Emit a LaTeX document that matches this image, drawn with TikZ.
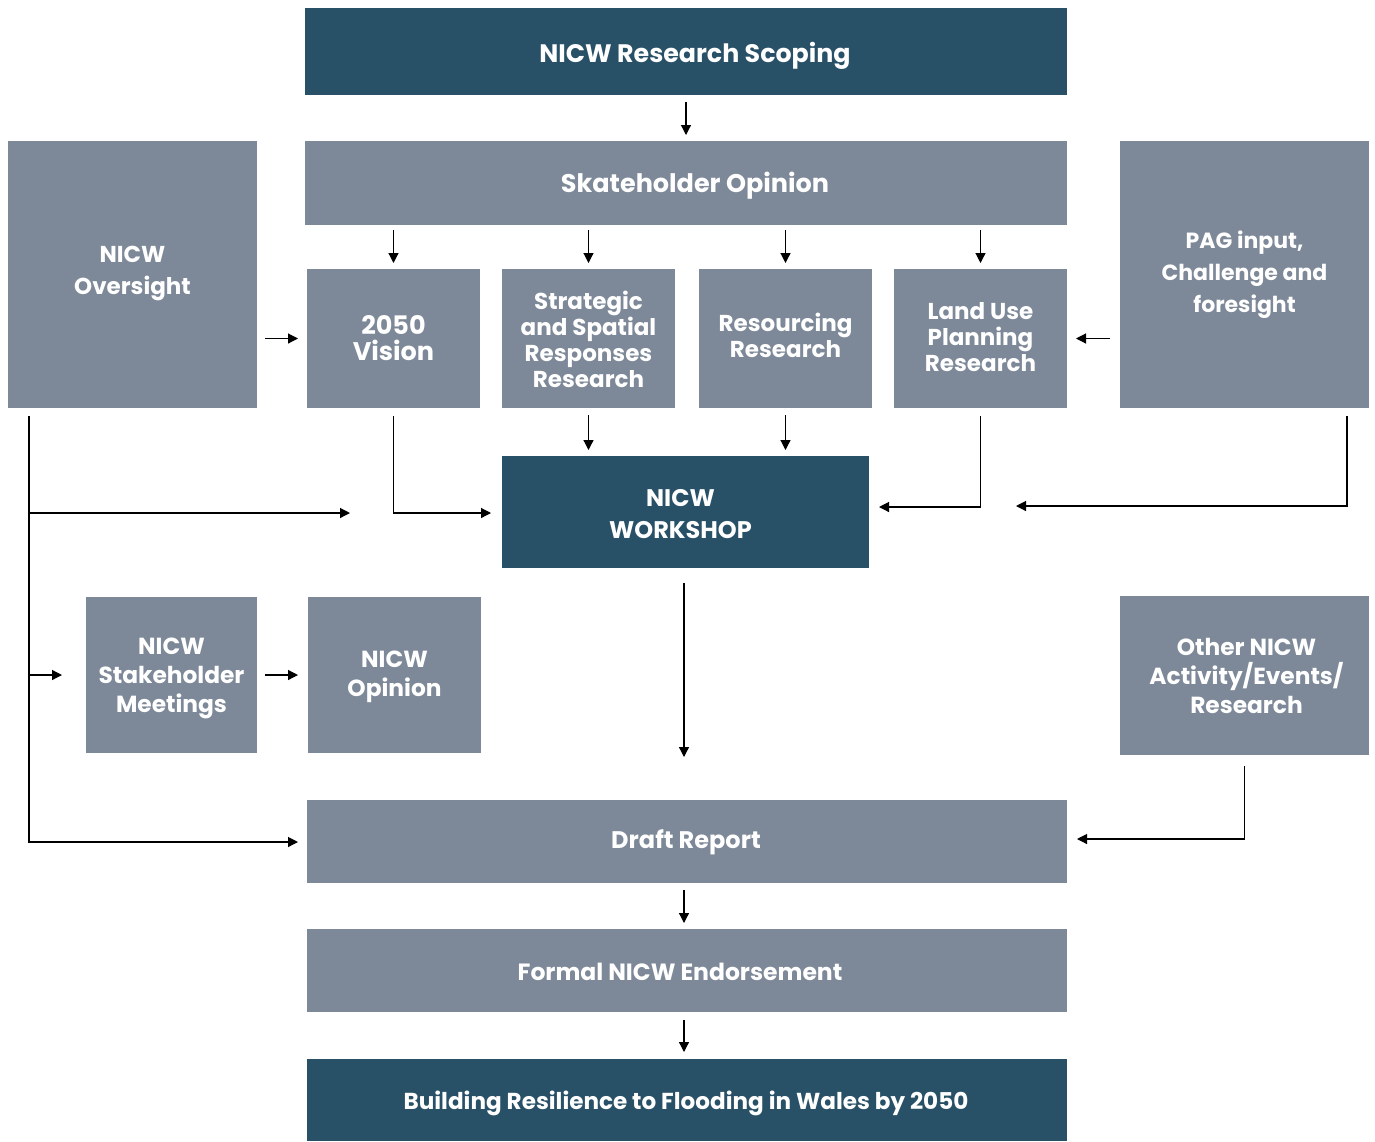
\documentclass[tikz,border=0pt]{standalone}
\usepackage{fontspec}
\setmainfont{Poppins}
\usetikzlibrary{arrows.meta}
\definecolor{darkbox}{RGB}{40,80,102}
\definecolor{greybox}{RGB}{125,137,152}
\newcommand{\fsz}[2]{\bfseries\fontsize{#1}{#2}\selectfont}
\begin{document}
\begin{tikzpicture}[x=1pt,y=-1pt,
  box/.style={fill=greybox,draw=none,inner sep=0pt,outer sep=0pt},
  darkb/.style={box,fill=darkbox},
  txt/.style={text=white,inner sep=0pt,align=center,font=\fsz{23}{26}},
  arr/.style={-{Triangle[length=10pt,width=10pt]},line width=1.2pt,black}]
\useasboundingbox (0,0) rectangle (1375,1141);
\fill[white] (0,0) rectangle (1375,1141);
% boxes
\node[darkb,minimum width=762,minimum height=87] (scope) at (686,51.5) {};
\node[box,minimum width=762,minimum height=84] (sk) at (686,183) {};
\node[box,minimum width=249,minimum height=267] (ovs) at (132.5,274.5) {};
\node[box,minimum width=249,minimum height=267] (pag) at (1244.5,274.5) {};
\node[box,minimum width=173,minimum height=139] (vis) at (393.5,338.5) {};
\node[box,minimum width=173,minimum height=139] (strat) at (588.5,338.5) {};
\node[box,minimum width=173,minimum height=139] (res) at (785.5,338.5) {};
\node[box,minimum width=173,minimum height=139] (land) at (980.5,338.5) {};
\node[darkb,minimum width=367,minimum height=112] (ws) at (685.5,512) {};
\node[box,minimum width=171,minimum height=156] (meet) at (171.5,675) {};
\node[box,minimum width=173,minimum height=156] (op) at (394.5,675) {};
\node[box,minimum width=249,minimum height=159] (other) at (1244.5,675.5) {};
\node[box,minimum width=760,minimum height=83] (draft) at (687,841.5) {};
\node[box,minimum width=760,minimum height=83] (formal) at (687,970.5) {};
\node[darkb,minimum width=760,minimum height=82] (build) at (687,1100) {};
% texts
\node[txt,font=\fsz{25.3}{32}] (scopeT) at ([xshift=9pt,yshift=-4pt]scope.center) {NICW Research Scoping};
\node[txt,font=\fsz{25.5}{32}] (skT) at ([xshift=9pt,yshift=-3pt]sk.center) {Skateholder Opinion};
\node[txt,font=\fsz{23}{32}] (ovsT) at ([yshift=1pt]ovs.center) {NICW\\Oversight};
\node[txt,font=\fsz{22}{32}] (pagT) at (pag.center) {PAG input,\\Challenge and\\foresight};
\node[txt,font=\fsz{25.5}{26}] (visT) at (vis.center) {2050\\Vision};
\node[txt] (stratT) at ([yshift=-1pt]strat.center) {Strategic\\and Spatial\\Responses\\Research};
\node[txt] (resT) at ([yshift=3pt]res.center) {Resourcing\\Research};
\node[txt] (landT) at ([yshift=1pt]land.center) {Land Use\\Planning\\Research};
\node[txt,font=\fsz{24}{32}] (wsT) at ([xshift=-5pt,yshift=-2pt]ws.center) {NICW\\WORKSHOP};
\node[txt,font=\fsz{23.3}{29}] (meetT) at ([yshift=-3pt]meet.center) {NICW\\Stakeholder\\Meetings};
\node[txt,font=\fsz{23.3}{29}] (opT) at ([yshift=-2pt]op.center) {NICW\\Opinion};
\node[txt,font=\fsz{23.3}{29}] (otherT) at ([xshift=2pt]other.center) {Other NICW\\Activity/Events/\\Research};
\node[txt,font=\fsz{24}{32}] (draftT) at ([xshift=-1pt,yshift=-1pt]draft.center) {Draft Report};
\node[txt,font=\fsz{23.5}{32}] (formalT) at ([xshift=-7pt,yshift=-1pt]formal.center) {Formal NICW Endorsement};
\node[txt,font=\fsz{23.1}{32}] (buildT) at ([xshift=-1pt,yshift=-3pt]build.center) {Building Resilience to Flooding in Wales by 2050};
% free ends
\coordinate (ovsend) at (350,513);
\coordinate (pagend) at (1016,506);
\coordinate (wsend) at (684,757);
% connectors
\draw[arr,shorten <=7pt,shorten >=6pt] (scope.south) -- (sk.north);
\foreach \n in {vis,strat,res,land}
  \draw[arr,shorten <=5pt,shorten >=6pt] (sk.south -| \n.north) -- (\n.north);
\draw[arr,shorten <=8pt,shorten >=9pt] (ovs.east |- vis.west) -- (vis.west);
\draw[arr,shorten <=10pt,shorten >=9pt] (pag.west |- land.east) -- (land.east);
\draw[arr,shorten <=7pt,shorten >=6pt] (strat.south) -- (strat.south |- ws.north);
\draw[arr,shorten <=7pt,shorten >=6pt] (res.south) -- (res.south |- ws.north);
\draw[arr,shorten <=8pt,shorten >=11pt] (vis.south) |- ([yshift=-1pt]ws.west);
\draw[arr,shorten <=8pt,shorten >=10pt] (land.south) |- ([yshift=5pt]ws.east);
\draw[arr,shorten <=8pt] ([xshift=102.5pt]pag.south) |- (pagend);
\draw[arr,shorten <=8pt,shorten >=9pt] ([xshift=21pt]ovs.south west) |- ([yshift=-0.5pt]draft.west);
\draw[arr] ([xshift=21pt]ovs.south west |- ovsend) -- (ovsend);
\draw[arr,shorten >=24pt] ([xshift=21pt]ovs.south west |- meet.west) -- (meet.west);
\draw[arr,shorten <=8pt,shorten >=10pt] (meet.east) -- (op.west);
\draw[arr,shorten <=15pt] (ws.south -| wsend) -- (wsend);
\draw[arr,shorten <=11pt,shorten >=10pt] (other.south) |- ([yshift=2.5pt]draft.east);
\draw[arr,shorten <=7pt,shorten >=6pt] (draft.south -| wsend) -- (formal.north -| wsend);
\draw[arr,shorten <=8pt,shorten >=7pt] (formal.south -| wsend) -- (build.north -| wsend);
\end{tikzpicture}
\end{document}
